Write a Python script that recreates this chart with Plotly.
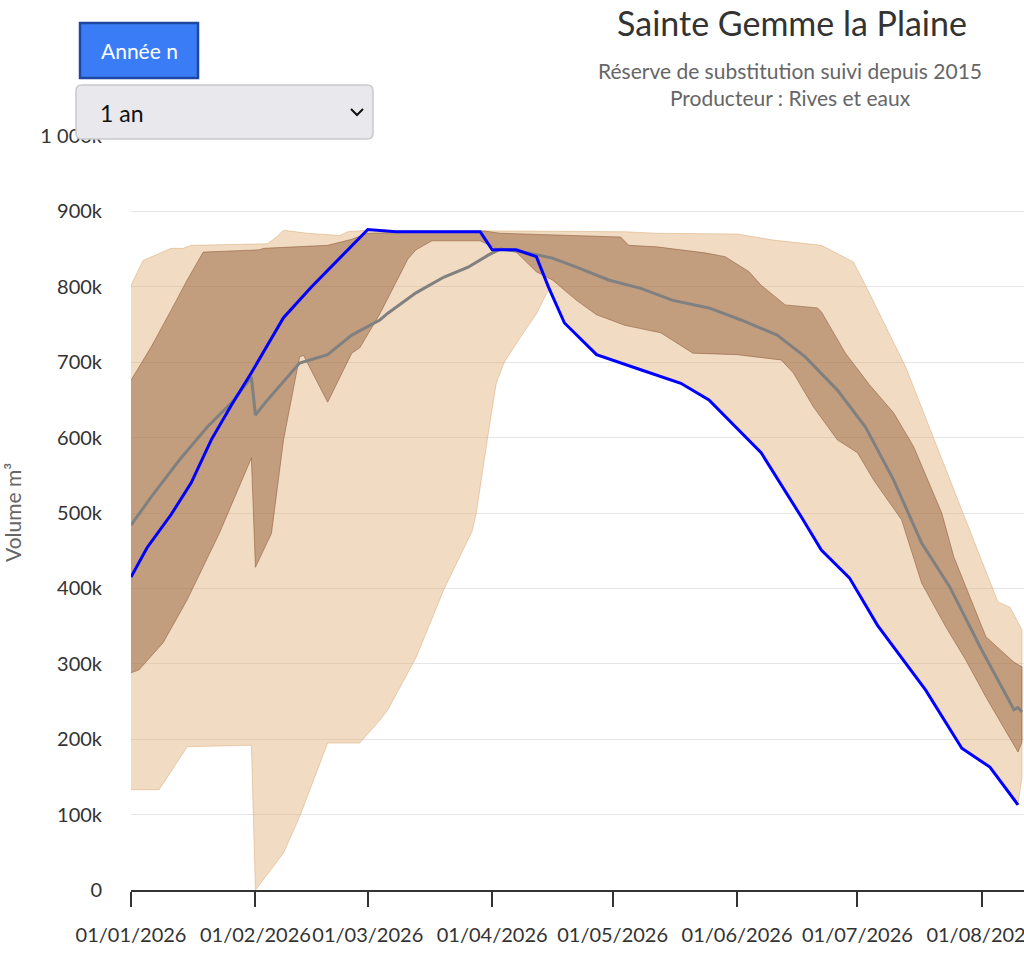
import plotly.graph_objects as go

# ---------------- data (volumes in thousands of m3) ----------------
blue_dates = ["2026-01-01","2026-01-05","2026-01-11","2026-01-16","2026-01-21","2026-01-26","2026-01-31",
              "2026-02-08","2026-02-15","2026-02-24","2026-03-01","2026-03-08","2026-03-29","2026-04-01",
              "2026-04-07","2026-04-12","2026-04-15","2026-04-19","2026-04-27","2026-05-08","2026-05-18",
              "2026-05-25","2026-06-07","2026-06-17","2026-06-22","2026-06-29","2026-07-06","2026-07-18",
              "2026-07-27","2026-08-03","2026-08-10"]
blue_vals = [415, 454, 498, 540, 597, 643, 686, 759, 800, 849, 876, 873, 873, 849, 849, 840, 800, 752,
             710, 690, 672, 650, 580, 495, 451, 414, 351, 265, 188, 163, 113]

gray_dates = ["2026-01-01","2026-01-06","2026-01-13","2026-01-20","2026-01-26","2026-01-31","2026-02-01",
              "2026-02-04","2026-02-12","2026-02-19","2026-02-25","2026-03-04","2026-03-06","2026-03-13",
              "2026-03-20","2026-03-26","2026-03-31","2026-04-03","2026-04-09","2026-04-16","2026-04-22",
              "2026-04-30","2026-05-08","2026-05-16","2026-05-25","2026-06-02","2026-06-11","2026-06-18",
              "2026-06-26","2026-07-03","2026-07-10","2026-07-17","2026-07-24","2026-08-01","2026-08-09",
              "2026-08-10","2026-08-11"]
gray_vals = [484, 521, 570, 614, 646, 680, 630, 650, 699, 710, 736, 756, 765, 792, 813, 826, 842, 850,
             846, 838, 826, 809, 798, 782, 772, 756, 736, 707, 663, 614, 544, 460, 402, 318, 239, 242, 236]

max_dates = ["2026-01-01","2026-01-04","2026-01-11","2026-01-14","2026-01-16","2026-02-04","2026-02-06",
             "2026-02-08","2026-02-14","2026-02-22","2026-02-24","2026-03-01","2026-04-05","2026-05-04",
             "2026-05-12","2026-06-01","2026-06-10","2026-06-22","2026-06-30","2026-07-03","2026-07-13",
             "2026-07-28","2026-08-05","2026-08-08","2026-08-11"]
max_vals = [802, 835, 851, 851, 855, 857, 865, 875, 871, 868, 873, 875, 874, 873, 871, 870, 862, 855,
            833, 802, 694, 491, 382, 375, 345]

min_dates = ["2026-01-01","2026-01-08","2026-01-15","2026-01-31","2026-02-01","2026-02-08","2026-02-12",
             "2026-02-19","2026-02-27","2026-03-04","2026-03-06","2026-03-13","2026-03-20","2026-03-27",
             "2026-03-28","2026-03-31","2026-04-02","2026-04-04","2026-04-09","2026-04-12","2026-04-15",
             "2026-04-19","2026-04-27","2026-05-08","2026-05-18","2026-05-25","2026-06-07","2026-06-17",
             "2026-06-22","2026-06-29","2026-07-06","2026-07-18","2026-07-27","2026-08-03","2026-08-10",
             "2026-08-11"]
min_vals = [133, 133, 190, 192, 0, 49, 97, 195, 195, 225, 239, 308, 399, 476, 499, 605, 672, 700, 741,
            764, 796, 752, 710, 690, 672, 650, 580, 495, 451, 414, 351, 265, 188, 163, 113, 150]

q75_dates = ["2026-01-01","2026-01-06","2026-01-11","2026-01-15","2026-01-19","2026-02-02","2026-02-03",
             "2026-02-19","2026-02-25","2026-03-01","2026-03-30","2026-04-03","2026-05-03","2026-05-05",
             "2026-05-12","2026-05-24","2026-05-29","2026-06-04","2026-06-07","2026-06-13","2026-06-21",
             "2026-06-22","2026-06-28","2026-07-04","2026-07-10","2026-07-15","2026-07-22","2026-07-25",
             "2026-08-02","2026-08-09","2026-08-11"]
q75_vals = [676, 720, 769, 809, 846, 849, 851, 855, 863, 871, 874, 871, 866, 855, 853, 845, 840, 820,
            802, 776, 772, 767, 712, 670, 633, 588, 500, 442, 336, 302, 296]

q25_dates = ["2026-01-01","2026-01-03","2026-01-09","2026-01-15","2026-01-23","2026-01-31","2026-02-01",
             "2026-02-05","2026-02-08","2026-02-12","2026-02-13","2026-02-19","2026-02-25","2026-02-27",
             "2026-03-04","2026-03-11","2026-03-13","2026-03-17","2026-03-29","2026-04-02","2026-04-07",
             "2026-04-12","2026-04-16","2026-04-22","2026-04-27","2026-05-04","2026-05-13","2026-05-21",
             "2026-06-01","2026-06-12","2026-06-15","2026-06-20","2026-06-26","2026-07-01","2026-07-05",
             "2026-07-12","2026-07-17","2026-07-23","2026-07-28","2026-08-02","2026-08-10","2026-08-11"]
q25_vals = [288, 292, 328, 385, 473, 573, 428, 473, 597, 707, 709, 647, 712, 719, 764, 837, 849, 861,
            861, 851, 846, 820, 809, 782, 763, 749, 739, 712, 710, 703, 686, 641, 597, 580, 544, 491,
            407, 349, 305, 256, 183, 196]

y_ticks = [0, 100, 200, 300, 400, 500, 600, 700, 800, 900, 1000]
y_tick_labels = ["0", "100k", "200k", "300k", "400k", "500k", "600k", "700k", "800k", "900k", "1 000k"]
x_ticks = ["2026-01-01","2026-02-01","2026-03-01","2026-04-01","2026-05-01","2026-06-01","2026-07-01","2026-08-01"]
x_tick_labels = ["01/01/2026","01/02/2026","01/03/2026","01/04/2026","01/05/2026","01/06/2026","01/07/2026","01/08/2026"]

K = 1000
FONT = "Lato"

fig = go.Figure()

# min-max band
fig.add_trace(go.Scatter(
    x=max_dates + min_dates[::-1],
    y=[v * K for v in max_vals] + [v * K for v in min_vals[::-1]],
    fill="toself", mode="lines",
    fillcolor="rgba(220,165,103,0.40)",
    line=dict(color="rgba(215,160,105,0.45)", width=1),
    hoverinfo="skip", showlegend=False))

# inter-quartile band
fig.add_trace(go.Scatter(
    x=q75_dates + q25_dates[::-1],
    y=[v * K for v in q75_vals] + [v * K for v in q25_vals[::-1]],
    fill="toself", mode="lines",
    fillcolor="rgba(147,97,58,0.50)",
    line=dict(color="rgba(140,90,55,0.55)", width=1),
    hoverinfo="skip", showlegend=False))

fig.add_trace(go.Scatter(x=gray_dates, y=[v * K for v in gray_vals], mode="lines",
                         line=dict(color="#808080", width=3), showlegend=False))
fig.add_trace(go.Scatter(x=blue_dates, y=[v * K for v in blue_vals], mode="lines",
                         line=dict(color="#0000ff", width=3), showlegend=False))

# plot area in screen pixels (page body margin is removed below)
SL, ST, SB, SR = 131, 136, 890, 1024
W, H = 1024, 965
PW = SR - SL
PH = SB - ST


def px(X):
    return (X - SL) / PW


def py(Y):
    return (SB - Y) / PH


fig.update_layout(
    width=W, height=H, autosize=False,
    margin=dict(l=SL, r=W - SR, t=ST, b=H - SB, autoexpand=False),
    paper_bgcolor="white", plot_bgcolor="white",
    font=dict(family=FONT, color="#333333"),
    showlegend=False,
    title=dict(text="Sainte Gemme la Plaine", x=px(792), xref="paper", xanchor="center",
               y=1 - 24 / H, yref="container", yanchor="middle",
               font=dict(family=FONT, size=34, color="#333333")),
    xaxis=dict(
        type="date", range=["2026-01-01", "2026-08-11 12:00"],
        tickvals=x_ticks, ticktext=x_tick_labels, tickangle=0,
        ticks="outside", ticklen=15, tickwidth=1.5, tickcolor="#333333",
        showline=True, linecolor="#333333", linewidth=2,
        showgrid=False, zeroline=False, automargin=False,
        ticklabeloverflow="allow",
        tickfont=dict(family=FONT, size=20, color="#333333"),
        ticklabelstandoff=11,
    ),
    yaxis=dict(
        range=[0, 1000 * K],
        tickvals=[v * K for v in y_ticks], ticktext=y_tick_labels,
        showgrid=True, gridcolor="#e6e6e6", gridwidth=1,
        zeroline=False, showline=False, automargin=False,
        ticks="", ticklabelstandoff=28,
        tickfont=dict(family=FONT, size=20, color="#333333"),
    ),
)

# subtitle
fig.add_annotation(text="Réserve de substitution suivi depuis 2015<br>Producteur : Rives et eaux",
                   xref="paper", yref="paper", x=px(790), y=py(84), xanchor="center", yanchor="middle",
                   showarrow=False, font=dict(family=FONT, size=21, color="#666666"), align="center")

# y axis title
fig.add_annotation(text="Volume m³", xref="paper", yref="paper", x=px(12), y=py(512),
                   xanchor="center", yanchor="middle", textangle=-90, showarrow=False,
                   font=dict(family=FONT, size=21, color="#666666"))

# "Année n" button
fig.add_shape(type="rect", xref="paper", yref="paper", x0=px(80), x1=px(198), y0=py(78), y1=py(23),
              fillcolor="#3a7cf6", line=dict(color="#1d47a0", width=2.5), layer="above")
fig.add_annotation(text="Année n", xref="paper", yref="paper", x=px(139), y=py(51),
                   xanchor="center", yanchor="middle", showarrow=False,
                   font=dict(family=FONT, size=21, color="white"))

# "1 an" dropdown
r = 6
x0, x1, y0, y1 = 76, 373, 85, 139
path = (f"M {px(x0 + r)},{py(y0)} L {px(x1 - r)},{py(y0)} Q {px(x1)},{py(y0)} {px(x1)},{py(y0 + r)} "
        f"L {px(x1)},{py(y1 - r)} Q {px(x1)},{py(y1)} {px(x1 - r)},{py(y1)} "
        f"L {px(x0 + r)},{py(y1)} Q {px(x0)},{py(y1)} {px(x0)},{py(y1 - r)} "
        f"L {px(x0)},{py(y0 + r)} Q {px(x0)},{py(y0)} {px(x0 + r)},{py(y0)} Z")
fig.add_shape(type="path", xref="paper", yref="paper", path=path,
              fillcolor="#e9e9ed", line=dict(color="#c9c9cc", width=1.5), layer="above")
fig.add_annotation(text="1 an", xref="paper", yref="paper", x=px(98), y=py(113),
                   xanchor="left", yanchor="middle", showarrow=False,
                   font=dict(family=FONT, size=23, color="#111111"))
chev = f"M {px(351)},{py(109)} L {px(357)},{py(115)} L {px(363)},{py(109)}"
fig.add_shape(type="path", xref="paper", yref="paper", path=chev,
              line=dict(color="#111111", width=2), layer="above")

fig.write_html("out.html",
               config={"displayModeBar": False},
               post_script="document.body.style.margin='0px';document.body.style.overflow='hidden';")
